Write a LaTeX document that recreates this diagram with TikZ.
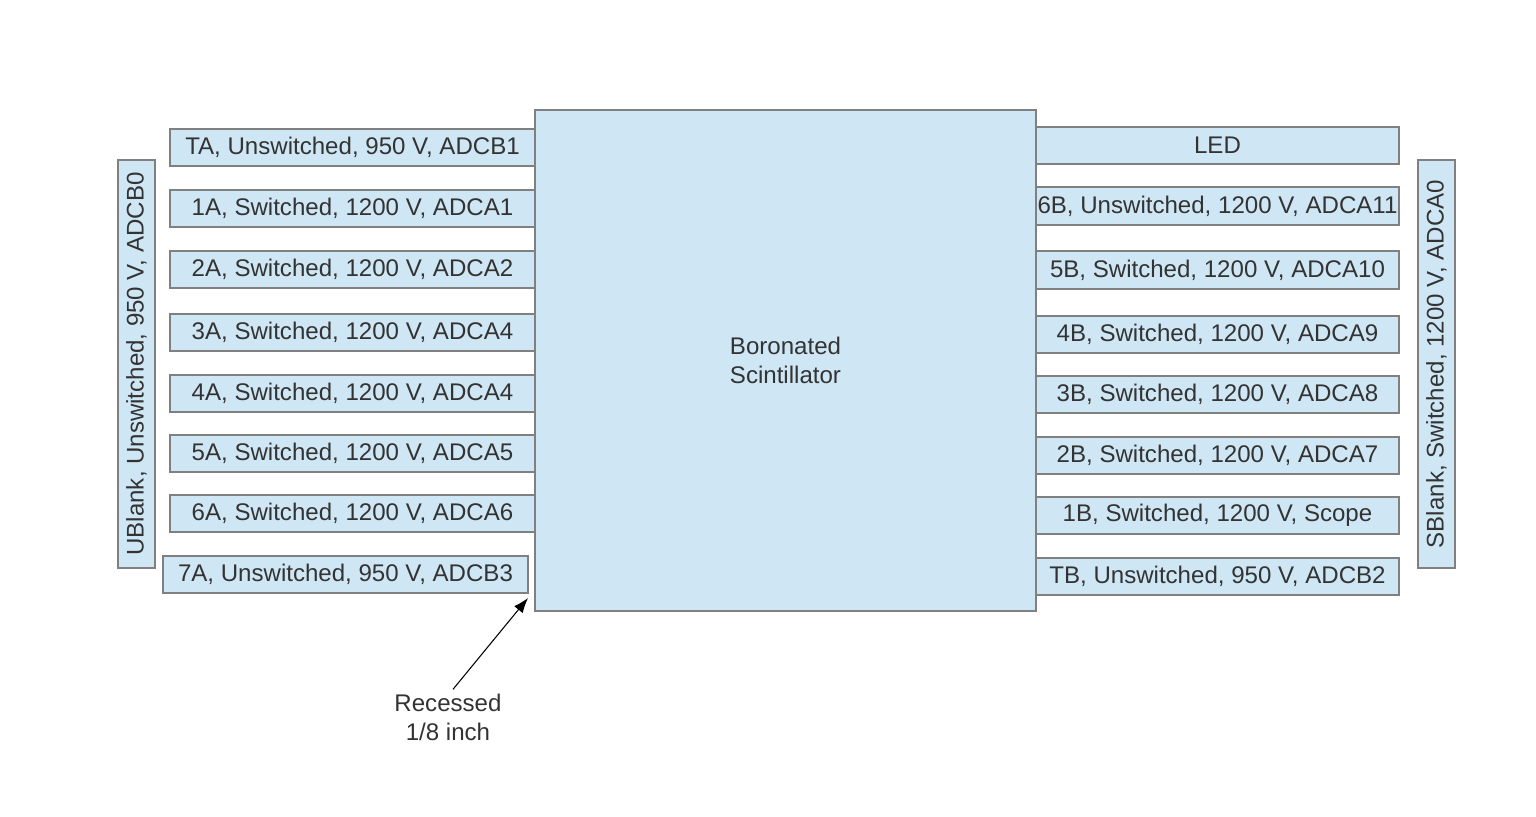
\documentclass[tikz,border=0pt]{standalone}
\usepackage{fontspec}
\setmainfont{Liberation Sans}
\usepackage{tikz}
\usetikzlibrary{arrows.meta,positioning,calc}
\definecolor{scintblue}{RGB}{207,231,245}
\definecolor{edgegray}{RGB}{128,128,128}
\definecolor{textgray}{RGB}{51,51,51}

\begin{document}
\begin{tikzpicture}[x=0.02cm,y=-0.02cm,>={Latex[length=0.3cm,width=0.22cm]},
    box/.style={draw=edgegray,fill=scintblue,line width=0.6pt},
    lbl/.style={text=textgray,font=\fontsize{13.7}{16.5}\selectfont,inner sep=0pt}]
  \useasboundingbox (0,0) rectangle (1536,816);
  % side blanks
  \draw[box] (118,160) rectangle (155,568) node[lbl,midway,rotate=90] (ub) {UBlank, Unswitched, 950 V, ADCB0};
  \draw[box] (1418,160) rectangle (1455,568) node[lbl,midway,rotate=90] (sb) {SBlank, Switched, 1200 V, ADCA0};
  % A side
  \draw[box] (170,129) rectangle (535,166) node[lbl,midway] (ta) {TA, Unswitched, 950 V, ADCB1};
  \draw[box] (170,190) rectangle (535,227) node[lbl,midway] (a1) {1A, Switched, 1200 V, ADCA1};
  \draw[box] (170,251) rectangle (535,288) node[lbl,midway] (a2) {2A, Switched, 1200 V, ADCA2};
  \draw[box] (170,314) rectangle (535,351) node[lbl,midway] (a3) {3A, Switched, 1200 V, ADCA4};
  \draw[box] (170,375) rectangle (535,412) node[lbl,midway] (a4) {4A, Switched, 1200 V, ADCA4};
  \draw[box] (170,435) rectangle (535,472) node[lbl,midway] (a5) {5A, Switched, 1200 V, ADCA5};
  \draw[box] (170,495) rectangle (535,532) node[lbl,midway] (a6) {6A, Switched, 1200 V, ADCA6};
  \draw[box] (163,556) coordinate (a7nw) rectangle (528,593) coordinate (a7se) node[lbl,midway] (a7) {7A, Unswitched, 950 V, ADCB3};
  % B side
  \draw[box] (1036,127) rectangle (1399,164) node[lbl,midway] (led) {LED};
  \draw[box] (1036,187) rectangle (1399,225) node[lbl,midway] (b6) {6B, Unswitched, 1200 V, ADCA11};
  \draw[box] (1036,251) rectangle (1399,289) node[lbl,midway] (b5) {5B, Switched, 1200 V, ADCA10};
  \draw[box] (1036,316) rectangle (1399,353) node[lbl,midway] (b4) {4B, Switched, 1200 V, ADCA9};
  \draw[box] (1036,376) rectangle (1399,413) node[lbl,midway] (b3) {3B, Switched, 1200 V, ADCA8};
  \draw[box] (1036,437) rectangle (1399,474) node[lbl,midway] (b2) {2B, Switched, 1200 V, ADCA7};
  \draw[box] (1036,497) rectangle (1399,534) node[lbl,midway] (b1) {1B, Switched, 1200 V, Scope};
  \draw[box] (1036,558) rectangle (1399,595) node[lbl,midway] (tb) {TB, Unswitched, 950 V, ADCB2};
  % scintillator
  \draw[box] (535,110) rectangle (1036,611) node[lbl,midway,align=center] (scint) {Boronated\\Scintillator};
  % recess note
  \node[lbl,align=center] (rec) at (448,717) {Recessed\\1/8 inch};
  \coordinate (tail) at ($(rec.north)+(5,-4)$);
  \coordinate (tip) at ($(a7se)+(0,5)$);
  \draw[->,line width=0.6pt] (tail) -- (tip);
\end{tikzpicture}
\end{document}
